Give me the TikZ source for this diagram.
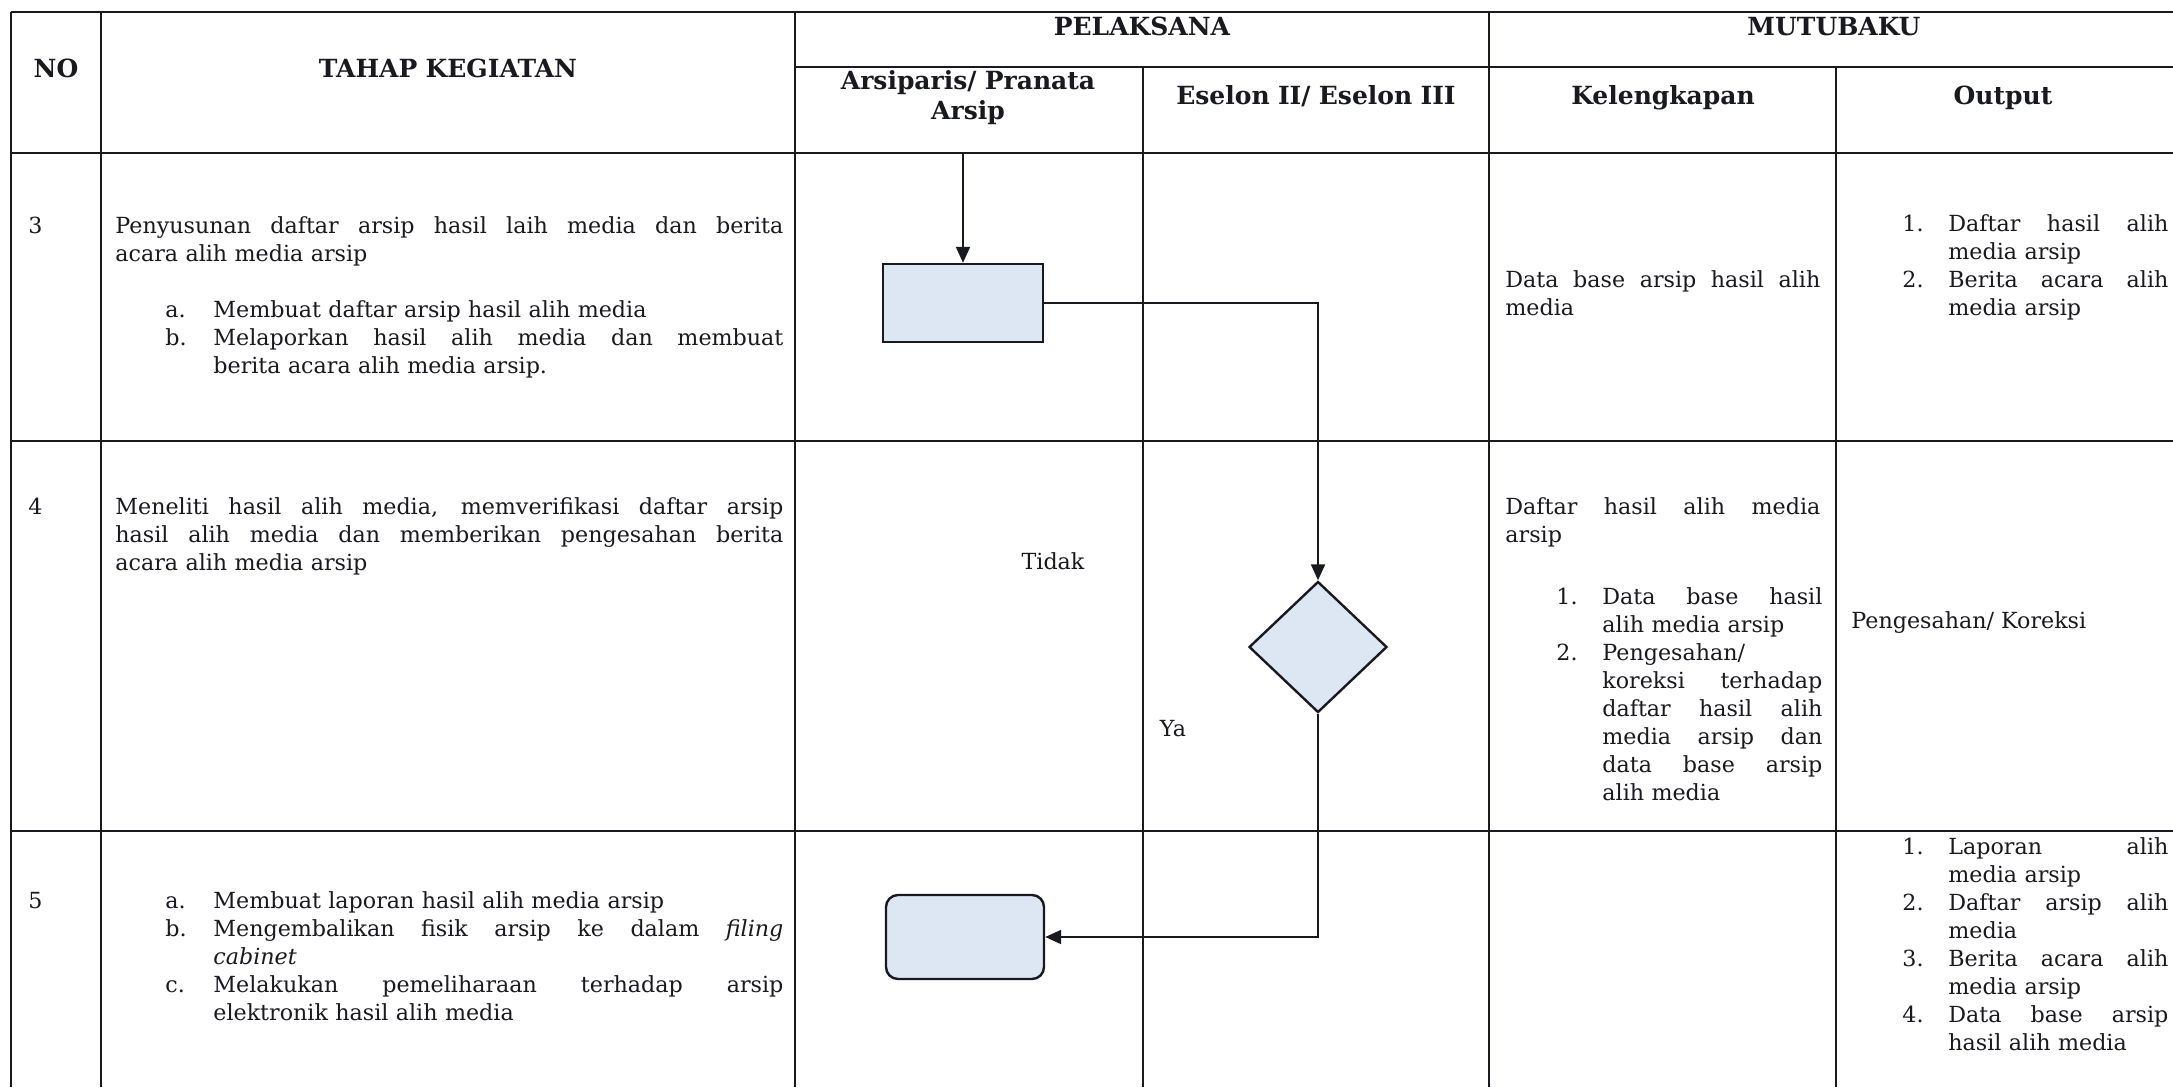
\documentclass[tikz,border=0pt]{standalone}
\usepackage{fontspec}
\setmainfont{DejaVu Serif}
\usetikzlibrary{arrows.meta,shapes.geometric}
\definecolor{boxfill}{RGB}{221,230,243}
\definecolor{ink}{RGB}{25,25,32}
\newcommand{\bodyfont}{\fontsize{11.1}{14}\selectfont}
\newcommand{\headfont}{\fontsize{12.5}{15}\selectfont\bfseries}
\newcommand{\jline}[2]{\leavevmode\hbox to #1{\spaceskip=0.32em plus 1fil minus 0.12em\relax #2}}
\newcommand{\lbl}[1]{\makebox[24pt][l]{#1}}
\newcommand{\nlbl}[1]{\makebox[23pt][l]{#1}}
\begin{document}
\begin{tikzpicture}[x=0.5pt,y=-0.5pt,
  grid/.style={line width=0.9pt, draw=ink},
  txt/.style={font=\bodyfont, text=ink, inner sep=0pt, anchor=base west, align=left},
  hd/.style={font=\headfont, text=ink, inner sep=0pt, anchor=base, align=center, text width=200pt},
  procbox/.style={rectangle, draw=ink, line width=1.2pt, fill=boxfill, minimum width=80pt, minimum height=39pt, inner sep=0pt},
  endbox/.style={rectangle, rounded corners=6pt, draw=ink, line width=1.2pt, fill=boxfill, minimum width=79pt, minimum height=42pt, inner sep=0pt},
  decision/.style={diamond, draw=ink, line width=1.2pt, fill=boxfill, minimum width=69pt, minimum height=65.5pt, inner sep=0pt},
  flow/.style={draw=ink, line width=1pt, -{Triangle[length=8pt,width=7pt]}}]
\useasboundingbox (0,0) rectangle (2173,1087);
\fill[white] (0,0) rectangle (2173,1087);

% ---------- table grid ----------
\draw[grid] (11,12) -- (2173,12);
\draw[grid] (795,67) -- (2173,67);
\draw[grid] (11,153) -- (2173,153);
\draw[grid] (11,441) -- (2173,441);
\draw[grid] (11,831) -- (2173,831);
\draw[grid] (11,12) -- (11,1087);
\draw[grid] (101,12) -- (101,1087);
\draw[grid] (795,12) -- (795,1087);
\draw[grid] (1143,67) -- (1143,1087);
\draw[grid] (1489,12) -- (1489,1087);
\draw[grid] (1836,67) -- (1836,1087);

% ---------- headers ----------
\node[hd] (hno) at (56,77) {NO};
\node[hd] (htahap) at (448,77) {TAHAP KEGIATAN};
\node[hd] (hpel) at (1142,35) {PELAKSANA};
\node[hd] (hmutu) at (1834,35) {MUTUBAKU};
\node[hd] (harsip) at (968,89) {Arsiparis/ Pranata\\Arsip};
\node[hd] (hes) at (1316,104) {Eselon II/ Eselon III};
\node[hd] (hkel) at (1663,104) {Kelengkapan};
\node[hd] (hout) at (2003,104) {Output};

% ---------- NO column ----------
\node[txt] (n3) at (28,233) {3};
\node[txt] (n4) at (28,514) {4};
\node[txt] (n5) at (28,908) {5};

% ---------- TAHAP KEGIATAN ----------
\node[txt, text width=336pt] (t3) at (115,233) {%
\jline{334pt}{Penyusunan daftar arsip hasil laih media dan berita}\\
acara alih media arsip\\[14pt]
\hspace*{25pt}\lbl{a.}Membuat daftar arsip hasil alih media\\
\hspace*{25pt}\lbl{b.}\jline{285pt}{Melaporkan hasil alih media dan membuat}\\
\hspace*{49pt}berita acara alih media arsip.};

\node[txt, text width=336pt] (t4) at (115,514) {%
\jline{334pt}{Meneliti hasil alih media, memverifikasi daftar arsip}\\
\jline{334pt}{hasil alih media dan memberikan pengesahan berita}\\
acara alih media arsip};

\node[txt, text width=336pt] (t5) at (115,908) {%
\hspace*{25pt}\lbl{a.}Membuat laporan hasil alih media arsip\\
\hspace*{25pt}\lbl{b.}\jline{285pt}{Mengembalikan fisik arsip ke dalam \textit{filing}}\\
\hspace*{49pt}\textit{cabinet}\\
\hspace*{25pt}\lbl{c.}\jline{285pt}{Melakukan pemeliharaan terhadap arsip}\\
\hspace*{49pt}elektronik hasil alih media};

% ---------- Kelengkapan ----------
\node[txt, text width=160pt] (k3) at (1505,287) {%
\jline{157.5pt}{Data base arsip hasil alih}\\
media};

\node[txt, text width=160pt] (k4) at (1505,514) {%
\jline{157.5pt}{Daftar hasil alih media}\\
arsip\\[17pt]
\hspace*{25.5pt}\nlbl{1.}\jline{110pt}{Data base hasil}\\
\hspace*{48.5pt}alih media arsip\\
\hspace*{25.5pt}\nlbl{2.}Pengesahan/\\
\hspace*{48.5pt}\jline{110pt}{koreksi terhadap}\\
\hspace*{48.5pt}\jline{110pt}{daftar hasil alih}\\
\hspace*{48.5pt}\jline{110pt}{media arsip dan}\\
\hspace*{48.5pt}\jline{110pt}{data base arsip}\\
\hspace*{48.5pt}alih media};

% ---------- Output ----------
\node[txt, text width=136pt] (o3) at (1902,231) {%
\nlbl{1.}\jline{110pt}{Daftar hasil alih}\\
\hspace*{23pt}media arsip\\
\nlbl{2.}\jline{110pt}{Berita acara alih}\\
\hspace*{23pt}media arsip};

\node[txt] (o4) at (1851,628) {Pengesahan/ Koreksi};

\node[txt, text width=136pt] (o5) at (1902,854) {%
\nlbl{1.}\jline{110pt}{Laporan alih}\\
\hspace*{23pt}media arsip\\
\nlbl{2.}\jline{110pt}{Daftar arsip alih}\\
\hspace*{23pt}media\\
\nlbl{3.}\jline{110pt}{Berita acara alih}\\
\hspace*{23pt}media arsip\\
\nlbl{4.}\jline{110pt}{Data base arsip}\\
\hspace*{23pt}hasil alih media};

% ---------- flowchart ----------
\coordinate (start) at (963,153);
\node[procbox] (p3) at (963,303) {};
\node[decision] (d4) at (1318,647) {};
\node[endbox] (e5) at (965,937) {};

\node[txt, anchor=base] (tidak) at (1053,569) {Tidak};
\node[txt, anchor=base] (ya) at (1173,736) {Ya};

\draw[flow] (start) -- (p3);
\draw[flow] (p3.east) -| (d4.north);
\draw[flow] (d4.south) |- (e5.east);
\end{tikzpicture}
\end{document}
